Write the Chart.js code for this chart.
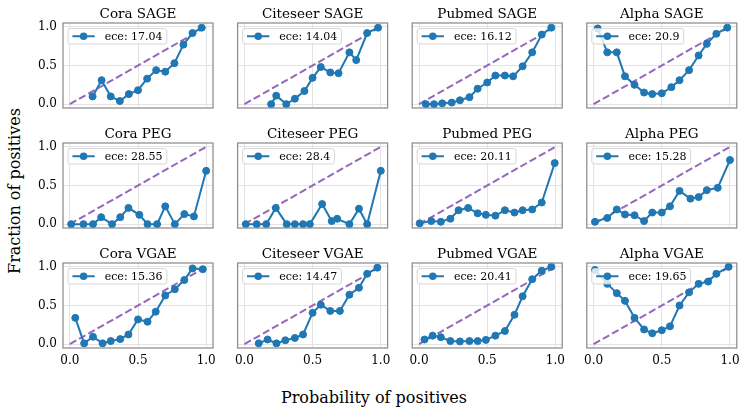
<!DOCTYPE html>
<html><head><meta charset="utf-8">
<script src="https://cdn.jsdelivr.net/npm/chart.js@4"></script>
<style>
html,body{margin:0;padding:0;background:#fff;}
#fig{position:relative;width:748px;height:413px;overflow:hidden;background:#fff;}
#fig canvas{position:absolute;left:0;top:0;}
.lab{position:absolute;font-family:'DejaVu Serif',serif;font-size:16px;color:#000;white-space:nowrap;transform:translate(-50%,-50%);}
</style></head><body>
<div id="fig">
  <div class="lab" style="left:374px;top:397px;">Probability of positives</div>
  <div class="lab" style="left:14px;top:191px;transform:translate(-50%,-50%) rotate(-90deg);">Fraction of positives</div>
</div>
<script>
// ---- data ----
const titles = ['Cora SAGE','Citeseer SAGE','Pubmed SAGE','Alpha SAGE',
                'Cora PEG','Citeseer PEG','Pubmed PEG','Alpha PEG',
                'Cora VGAE','Citeseer VGAE','Pubmed VGAE','Alpha VGAE'];
const eceLabels = ['ece: 17.04','ece: 14.04','ece: 16.12','ece: 20.9',
                   'ece: 28.55','ece: 28.4','ece: 20.11','ece: 15.28',
                   'ece: 15.36','ece: 14.47','ece: 20.41','ece: 19.65'];
const tickValues = [0, 0.5, 1.0];
const tickLabels = ['0.0','0.5','1.0'];
const diagX = [0, 1];
const diagY = [0, 1];

const coraSageX = [0.167,0.233,0.30,0.367,0.433,0.50,0.567,0.633,0.70,0.767,0.833,0.90,0.967];
const coraSageY = [0.10,0.31,0.10,0.04,0.13,0.18,0.33,0.44,0.42,0.53,0.77,0.92,0.99];
const citeseerSageX = [0.196,0.233,0.307,0.37,0.44,0.50,0.56,0.63,0.69,0.77,0.82,0.90,0.98];
const citeseerSageY = [0.0,0.11,0.0,0.07,0.17,0.34,0.48,0.41,0.40,0.67,0.57,0.92,0.99];
const pubmedSageX = [0.05,0.11,0.17,0.24,0.30,0.37,0.43,0.50,0.56,0.63,0.69,0.76,0.83,0.90,0.97];
const pubmedSageY = [0.0,0.0,0.01,0.02,0.05,0.09,0.20,0.28,0.37,0.37,0.36,0.49,0.67,0.90,0.99];
const alphaSageX = [0.03,0.10,0.17,0.23,0.30,0.37,0.43,0.50,0.57,0.63,0.70,0.77,0.83,0.90,0.98];
const alphaSageY = [0.98,0.67,0.67,0.36,0.25,0.15,0.13,0.14,0.22,0.31,0.44,0.63,0.78,0.91,0.99];

const coraPegX = [0.01,0.10,0.17,0.23,0.31,0.37,0.43,0.51,0.57,0.64,0.70,0.77,0.84,0.91,1.0];
const coraPegY = [0,0,0,0.09,0,0.09,0.21,0.12,0,0,0.23,0,0.13,0.10,0.69];
const citeseerPegX = [0.01,0.09,0.16,0.23,0.31,0.37,0.43,0.48,0.57,0.64,0.68,0.77,0.84,0.90,1.0];
const citeseerPegY = [0,0,0,0.21,0,0,0,0,0.26,0.04,0.07,0,0.20,0,0.69];
const pubmedPegX = [0.005,0.09,0.16,0.23,0.29,0.36,0.43,0.49,0.56,0.63,0.70,0.76,0.83,0.90,0.995];
const pubmedPegY = [0.01,0.04,0.03,0.07,0.18,0.21,0.14,0.12,0.11,0.18,0.15,0.18,0.19,0.28,0.79];
const alphaPegX = [0.01,0.10,0.17,0.23,0.30,0.37,0.43,0.50,0.56,0.63,0.71,0.77,0.83,0.91,1.0];
const alphaPegY = [0.03,0.08,0.19,0.125,0.115,0.04,0.15,0.15,0.23,0.43,0.33,0.35,0.44,0.47,0.83];

const coraVgaeX = [0.04,0.105,0.17,0.24,0.30,0.37,0.43,0.50,0.57,0.63,0.70,0.77,0.84,0.90,0.975];
const coraVgaeY = [0.34,0.01,0.095,0.01,0.04,0.065,0.125,0.32,0.29,0.42,0.63,0.71,0.83,0.98,0.97];
const citeseerVgaeX = [0.105,0.17,0.235,0.30,0.37,0.43,0.50,0.56,0.63,0.70,0.77,0.84,0.90,0.975];
const citeseerVgaeY = [0.01,0.06,0.01,0.05,0.08,0.125,0.405,0.51,0.43,0.43,0.64,0.73,0.91,0.99];
const pubmedVgaeX = [0.04,0.10,0.16,0.23,0.30,0.37,0.43,0.49,0.56,0.63,0.70,0.76,0.83,0.90,0.97];
const pubmedVgaeY = [0.06,0.11,0.09,0.04,0.035,0.04,0.04,0.055,0.11,0.17,0.38,0.62,0.84,0.95,1.0];
const alphaVgaeX = [0.01,0.10,0.17,0.23,0.30,0.37,0.43,0.50,0.56,0.63,0.70,0.77,0.84,0.90,0.99];
const alphaVgaeY = [0.96,0.78,0.66,0.56,0.34,0.19,0.14,0.18,0.23,0.50,0.67,0.78,0.81,0.91,1.0];

const seriesX = [coraSageX,citeseerSageX,pubmedSageX,alphaSageX,coraPegX,citeseerPegX,pubmedPegX,alphaPegX,coraVgaeX,citeseerVgaeX,pubmedVgaeX,alphaVgaeX];
const seriesY = [coraSageY,citeseerSageY,pubmedSageY,alphaSageY,coraPegY,citeseerPegY,pubmedPegY,alphaPegY,coraVgaeY,citeseerVgaeY,pubmedVgaeY,alphaVgaeY];

// ---- layout / style ----
const FIG_W = 748, FIG_H = 413;
const AX_W = 150, AX_H = 85;
const FONT = "'DejaVu Serif', serif";
const TEXT = '#000';
const BLUE = '#1f77b4', PURPLE = '#9467bd';
const axLeft = c => 63 + c * 174.6;
const axTop = r => 23 + r * 120;

const decorPlugin = {
  id: 'decor',
  afterDatasetsDraw(chart, args, opts) {
    const ctx = chart.ctx, a = chart.chartArea;
    ctx.save();
    // spines
    ctx.strokeStyle = '#8c8c8c';
    ctx.lineWidth = 1.25;
    ctx.strokeRect(a.left, a.top, a.right - a.left, a.bottom - a.top);
    // title
    ctx.fillStyle = TEXT;
    ctx.font = '13.5px ' + FONT;
    ctx.textAlign = 'center';
    ctx.textBaseline = 'alphabetic';
    ctx.fillText(opts.title, (a.left + a.right) / 2, a.top - 5.5);
    // legend
    const label = chart.data.datasets[0].label;
    ctx.font = '11px ' + FONT;
    const tw = ctx.measureText(label).width;
    const bx = a.left + 5, by = a.top + 5.5, bw = 37 + tw + 4, bh = 15.5;
    ctx.beginPath();
    if (ctx.roundRect) ctx.roundRect(bx, by, bw, bh, 2.5); else ctx.rect(bx, by, bw, bh);
    ctx.fillStyle = 'rgba(255,255,255,0.8)';
    ctx.fill();
    ctx.strokeStyle = 'rgba(204,204,204,0.8)';
    ctx.lineWidth = 1;
    ctx.stroke();
    const cy = by + bh / 2;
    ctx.beginPath();
    ctx.moveTo(bx + 4.4, cy); ctx.lineTo(bx + 26.7, cy);
    ctx.strokeStyle = BLUE; ctx.lineWidth = 2; ctx.stroke();
    ctx.beginPath();
    ctx.arc(bx + 15.6, cy, 3.8, 0, Math.PI * 2);
    ctx.fillStyle = BLUE; ctx.fill();
    ctx.fillStyle = TEXT;
    ctx.textAlign = 'left';
    ctx.textBaseline = 'middle';
    ctx.fillText(label, bx + 36.7, cy + 0.5);
    ctx.restore();
  }
};

const fig = document.getElementById('fig');
for (let i = 0; i < 12; i++) {
  const r = Math.floor(i / 4), c = i % 4;
  const L = axLeft(c), T = axTop(r);
  const yw = c === 0 ? 40 : 0;
  const xh = r === 2 ? 22 : 0;
  const cv = document.createElement('canvas');
  cv.width = FIG_W; cv.height = FIG_H;
  cv.style.width = FIG_W + 'px'; cv.style.height = FIG_H + 'px';
  fig.appendChild(cv);
  const gridOpts = { color: '#e3e3e3', lineWidth: 1, drawTicks: false };
  const tickFont = { family: FONT, size: 12 };
  new Chart(cv, {
    type: 'line',
    data: {
      datasets: [
        { label: eceLabels[i], data: seriesX[i].map((x, k) => ({ x, y: seriesY[i][k] })),
          borderColor: BLUE, backgroundColor: BLUE, borderWidth: 2,
          pointRadius: 3.5, pointBorderWidth: 1, pointBackgroundColor: BLUE, pointBorderColor: BLUE,
          tension: 0, order: 0, clip: 0 },
        { label: 'diag', data: diagX.map((x, k) => ({ x, y: diagY[k] })),
          borderColor: PURPLE, borderWidth: 2, borderDash: [7.4, 3.2],
          pointRadius: 0, tension: 0, order: 1 }
      ]
    },
    options: {
      responsive: false, animation: false, devicePixelRatio: 1,
      events: [],
      layout: { padding: { left: L - yw, right: FIG_W - L - AX_W, top: T, bottom: FIG_H - T - AX_H - xh } },
      plugins: { legend: { display: false }, tooltip: { enabled: false }, title: { display: false },
                 decor: { title: titles[i] } },
      scales: {
        x: { type: 'linear', min: -0.05, max: 1.05,
             grid: gridOpts, border: { display: false },
             afterBuildTicks: s => { s.ticks = tickValues.map(v => ({ value: v })); },
             afterFit: s => { s.height = xh; },
             ticks: { display: r === 2, autoSkip: false, maxRotation: 0, padding: 6, color: TEXT, font: tickFont,
                      callback: (v, k) => tickLabels[k] } },
        y: { type: 'linear', min: -0.05, max: 1.05,
             grid: gridOpts, border: { display: false },
             afterBuildTicks: s => { s.ticks = tickValues.map(v => ({ value: v })); },
             afterFit: s => { s.width = yw; },
             ticks: { display: c === 0, autoSkip: false, padding: 6, color: TEXT, font: tickFont,
                      callback: (v, k) => tickLabels[k] } }
      }
    },
    plugins: [decorPlugin]
  });
}
</script>
</body></html>
